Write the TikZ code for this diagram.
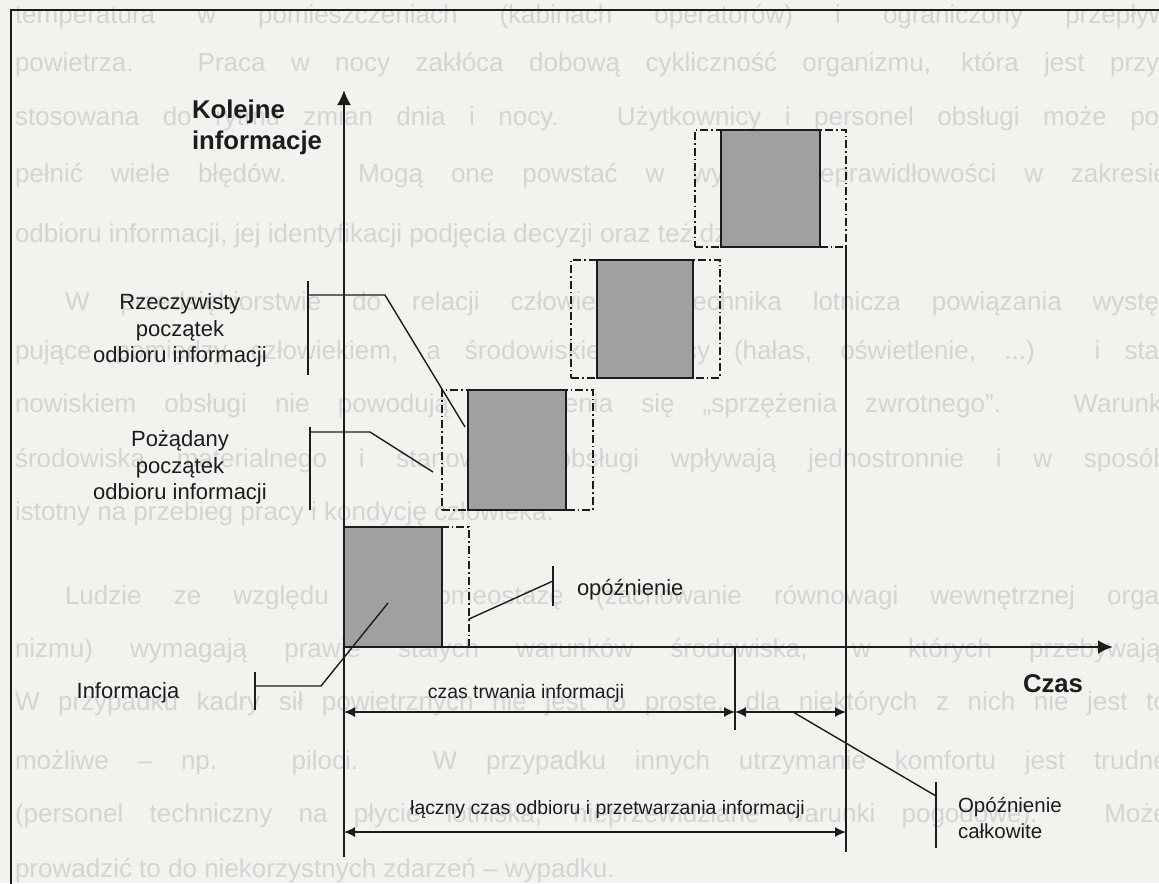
\documentclass[tikz,border=0pt]{standalone}
\usepackage{fontspec}
\setmainfont{Liberation Sans}
\usetikzlibrary{arrows.meta}
\definecolor{paper}{RGB}{242,242,239}
\definecolor{ghost}{RGB}{212,212,210}
\definecolor{ink}{RGB}{28,28,28}
\definecolor{boxgray}{RGB}{160,160,160}
\begin{document}
\begin{tikzpicture}[x=0.5pt,y=-0.5pt,
  every node/.style={inner sep=0pt, outer sep=0pt},
  ghost/.style={anchor=base west, text=ghost, font=\fontsize{13}{15}\selectfont},
  frame/.style={draw=ink, line width=1.25pt},
  axis/.style={draw=ink, -{Latex[length=7.5pt,width=7pt]}},
  leader/.style={draw=ink, line width=0.7pt},
  span/.style={draw=ink, line width=0.7pt, {Latex[length=5.5pt,width=5pt]}-{Latex[length=5.5pt,width=5pt]}},
  window/.style={draw=ink, line width=0.6pt, dash pattern=on 4pt off 1.5pt on 0.8pt off 1.5pt},
  infobox/.style={draw=ink, line width=0.8pt, fill=boxgray},
  lbl/.style={text=ink, font=\fontsize{11}{13.25}\selectfont, align=center},
  note/.style={text=ink, font=\fontsize{10.25}{13}\selectfont, align=left},
  small/.style={text=ink, font=\fontsize{9.7}{12}\selectfont},
  title/.style={text=ink, font=\bfseries\fontsize{12.85}{15.5}\selectfont},
]
% page
\fill[paper] (0,0) rectangle (1159,883);
\useasboundingbox (0,0) rectangle (1159,883);

% running text of the page behind the figure
\node[ghost] (g1)  at (15,24)  {\makebox[576.5pt][s]{temperatura w pomieszczeniach (kabinach operatorów) i ograniczony przepływ}};
\node[ghost] (g2)  at (15,72)  {\makebox[576.5pt][s]{powietrza. Praca w nocy zakłóca dobową cykliczność organizmu, która jest przy-}};
\node[ghost] (g3)  at (15,125) {\makebox[576.5pt][s]{stosowana do rytmu zmian dnia i nocy. Użytkownicy i personel obsługi może po-}};
\node[ghost] (g4)  at (15,182) {\makebox[576.5pt][s]{pełnić wiele błędów. Mogą one powstać w wyniku nieprawidłowości w zakresie}};
\node[ghost] (g5)  at (15,242) {odbioru informacji, jej identyfikacji podjęcia decyzji oraz też działania.};
\node[ghost] (g6)  at (65,310) {\makebox[551.5pt][s]{W przedsiębiorstwie do relacji człowiek – technika lotnicza powiązania wystę-}};
\node[ghost] (g7)  at (15,359) {\makebox[576.5pt][s]{pujące pomiędzy człowiekiem, a środowiskiem pracy (hałas, oświetlenie, ...) i sta-}};
\node[ghost] (g8)  at (15,412) {\makebox[576.5pt][s]{nowiskiem obsługi nie powodują wystąpienia się „sprzężenia zwrotnego”. Warunki}};
\node[ghost] (g9)  at (15,467) {\makebox[576.5pt][s]{środowiska materialnego i stanowiska obsługi wpływają jednostronnie i w sposób}};
\node[ghost] (g10) at (15,520) {istotny na przebieg pracy i kondycję człowieka.};
\node[ghost] (g11) at (65,604) {\makebox[551.5pt][s]{Ludzie ze względu na homeostazę (zachowanie równowagi wewnętrznej orga-}};
\node[ghost] (g12) at (15,657) {\makebox[576.5pt][s]{nizmu) wymagają prawie stałych warunków środowiska, w których przebywają.}};
\node[ghost] (g13) at (15,710) {\makebox[576.5pt][s]{W przypadku kadry sił powietrznych nie jest to proste, dla niektórych z nich nie jest to}};
\node[ghost] (g14) at (15,769) {\makebox[576.5pt][s]{możliwe – np. piloci. W przypadku innych utrzymanie komfortu jest trudne}};
\node[ghost] (g15) at (15,822) {\makebox[576.5pt][s]{(personel techniczny na płycie lotniska, nieprzewidziane warunki pogodowe). Może}};
\node[ghost] (g16) at (15,877) {prowadzić to do niekorzystnych zdarzeń – wypadku.};

% frame of the figure
\coordinate (fBL) at (11,884);
\coordinate (fTL) at (11,10);
\coordinate (fTR) at (1160,10);
\draw[frame] (fBL) -- (fTL) -- (fTR);

% observation windows (dash-dot) and information blocks (shaded)
\node[window, minimum width=62.5pt, minimum height=60pt]   (w1) at (406.5,587) {};
\node[window, minimum width=75.5pt, minimum height=60pt]   (w2) at (517.5,450) {};
\node[window, minimum width=74.5pt, minimum height=59pt]   (w3) at (645.5,319) {};
\node[window, minimum width=75.5pt, minimum height=58.5pt] (w4) at (770.5,188.5) {};
\node[infobox, minimum width=49pt, minimum height=60pt]     (i1) at (393,587) {};
\node[infobox, minimum width=49pt, minimum height=60pt]     (i2) at (517,450) {};
\node[infobox, minimum width=48pt, minimum height=59pt]     (i3) at (645,319) {};
\node[infobox, minimum width=49.5pt, minimum height=58.5pt] (i4) at (770.5,188.5) {};

% axes
\coordinate (O) at (344,647);
\coordinate (yBot) at (344,857);
\coordinate (yTop) at (344,90);
\coordinate (xEnd) at (1113,647);
\draw[axis, line width=1.1pt] (yBot) -- (yTop);
\draw[axis, line width=1.4pt] (O) -- (xEnd);

% time marks
\coordinate (dTop) at (735,647);
\coordinate (dBot) at (735,730);
\coordinate (tEnd) at (846,852);
\draw[leader] (dTop) -- (dBot);
\draw[leader] (w4.south east) -- (tEnd);

% time spans
\coordinate (sA) at (344,712);
\coordinate (sB) at (735,712);
\coordinate (sC) at (846,712);
\coordinate (tA) at (344,832);
\coordinate (tB) at (846,832);
\draw[span] (sA) -- (sB);
\draw[span] (sB) -- (sC);
\draw[span] (tA) -- (tB);

% labels
\node[title, align=left, anchor=north west] (ylab) at (192,100) {Kolejne\\informacje};
\node[title, anchor=base] (xlab) at (1053,692) {Czas};
\node[lbl, anchor=north] (real) at (180,294) {Rzeczywisty\\początek\\odbioru informacji};
\node[lbl, anchor=north] (want) at (180,431) {Pożądany\\początek\\odbioru informacji};
\node[lbl, anchor=base] (info) at (128,698) {Informacja};
\node[lbl, anchor=base west] (lag) at (577,595) {opóźnienie};
\node[small, anchor=base] (dur) at (526,698) {czas trwania informacji};
\node[small, anchor=base] (tot) at (607.5,814) {łączny czas odbioru i przetwarzania informacji};
\node[note, anchor=north west] (lagt) at (958,797) {Opóźnienie\\całkowite};

% leader lines of the labels
\coordinate (r1) at (308,281); \coordinate (r2) at (308,375);
\coordinate (r3) at (308,295); \coordinate (r4) at (385,295); \coordinate (r5) at (465,427);
\draw[leader] (r1) -- (r2);
\draw[leader] (r3) -- (r4) -- (r5);

\coordinate (q1) at (310,427); \coordinate (q2) at (310,510);
\coordinate (q3) at (310,432); \coordinate (q4) at (370,432); \coordinate (q5) at (433,472);
\draw[leader] (q1) -- (q2);
\draw[leader] (q3) -- (q4) -- (q5);

\coordinate (n1) at (255,672); \coordinate (n2) at (255,710);
\coordinate (n3) at (255,686); \coordinate (n4) at (321,686); \coordinate (n5) at (388,603);
\draw[leader] (n1) -- (n2);
\draw[leader] (n3) -- (n4) -- (n5);

\coordinate (o1) at (553,566); \coordinate (o2) at (553,606);
\coordinate (o3) at (553,581); \coordinate (o4) at (469,619);
\draw[leader] (o1) -- (o2);
\draw[leader] (o3) -- (o4);

\coordinate (c1) at (936,782); \coordinate (c2) at (936,848);
\coordinate (c3) at (936,796); \coordinate (c4) at (793,712);
\draw[leader] (c1) -- (c2);
\draw[leader] (c3) -- (c4);
\end{tikzpicture}
\end{document}
